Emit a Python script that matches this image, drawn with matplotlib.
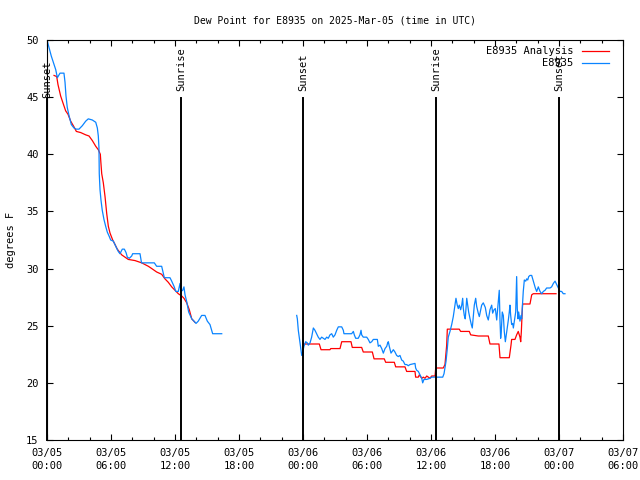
import matplotlib
matplotlib.use('Agg')
import matplotlib.pyplot as plt
from matplotlib.ticker import MultipleLocator

# hours since 03/05 00:00 UTC
obs_t1 = [0.0, 0.40, 0.82, 0.97, 1.22, 1.43, 1.59, 1.69, 1.78, 1.90, 2.06, 2.28, 2.53, 2.75, 3.0,
          3.31, 3.63, 3.87, 4.25, 4.57, 4.72, 4.81, 4.87, 4.90, 4.97, 5.06, 5.18, 5.34, 5.50, 5.65,
          5.84, 5.97, 6.22, 6.47, 6.68, 6.84, 7.06, 7.25, 7.41, 7.53, 7.72, 7.94, 8.03, 8.72, 8.86,
          10.06, 10.28, 10.75, 10.90, 11.0, 11.53, 11.69, 11.93, 12.07, 12.31, 12.47, 12.56, 12.72,
          12.84, 12.94, 13.10, 13.28, 13.57, 13.78, 13.97, 14.18, 14.50, 14.81, 15.03, 15.28, 15.53,
          16.38]
obs_v1 = [50.0, 48.6, 47.4, 46.7, 47.1, 47.1, 47.1, 46.3, 45.1, 44.1, 43.4, 42.6, 42.3, 42.2, 42.2,
          42.5, 42.9, 43.1, 43.0, 42.8, 42.3, 41.6, 40.6, 38.3, 36.9, 36.0, 35.1, 34.3, 33.7, 33.2,
          32.8, 32.5, 32.4, 31.9, 31.5, 31.3, 31.7, 31.7, 31.4, 31.0, 30.9, 31.1, 31.3, 31.3, 30.5,
          30.5, 30.2, 30.2, 29.6, 29.2, 29.2, 28.9, 28.4, 28.0, 28.0, 28.7, 28.0, 28.1,
          28.4, 27.7, 27.1, 26.2, 25.6, 25.4, 25.2, 25.4, 25.9, 25.9, 25.4, 25.1, 24.3,
          24.3]

obs_t2 = [23.41, 23.47, 23.56, 23.72, 23.88, 23.97, 24.09, 24.25, 24.40, 24.50, 24.66, 24.81, 24.97,
          25.12, 25.28, 25.43, 25.59, 25.75, 25.90, 26.06, 26.22, 26.37, 26.53, 26.69, 26.84, 27.0,
          27.16, 27.31, 27.63, 27.78, 27.84, 28.56, 28.72, 28.81, 28.94, 29.18, 29.34, 29.44, 29.50,
          29.65, 29.97, 30.12, 30.28, 30.44, 30.59, 30.97, 31.06, 31.22, 31.38, 31.53, 31.69, 31.85,
          31.94, 32.0, 32.09, 32.25, 32.47, 32.62, 32.78, 32.93, 33.09, 33.25, 33.40, 33.56, 33.72,
          33.87, 34.03, 34.50, 34.56, 34.66, 34.81, 34.97, 35.13, 35.22, 35.34, 35.60, 35.91, 36.06,
          37.10, 37.22, 37.31, 37.41, 37.53, 37.62, 37.78, 37.94, 38.09, 38.25, 38.34, 38.46, 38.56,
          38.65, 38.78, 38.88, 38.97, 39.03, 39.12, 39.21, 39.35, 39.44, 39.53, 39.66, 39.78, 39.87,
          39.97, 40.06, 40.19, 40.28, 40.43, 40.53, 40.66, 40.75, 40.90, 41.0, 41.09, 41.22, 41.37,
          41.53, 41.69, 41.78, 41.91, 42.03, 42.16, 42.31, 42.40, 42.47, 42.53, 42.59, 42.68, 42.78,
          42.87, 42.97, 43.06, 43.15, 43.25, 43.34, 43.40, 43.47, 43.56, 43.66, 43.72, 43.85, 43.94,
          44.03, 44.09, 44.16, 44.22, 44.34, 44.44, 44.50, 44.56, 44.65, 44.75, 44.88, 44.97, 45.07,
          45.16, 45.28, 45.44, 45.53, 45.66, 45.78, 45.91, 46.06, 46.22, 46.38, 46.53, 46.69, 46.84,
          47.0, 47.16, 47.31, 47.47, 47.63, 47.78, 47.94, 48.09, 48.25, 48.40, 48.56]
obs_v2 = [25.9, 25.6, 24.6, 23.5, 22.4, 22.7, 23.2, 23.6, 23.5, 23.3, 23.5, 24.0, 24.8,
          24.6, 24.3, 24.0, 23.8, 24.0, 23.9, 23.8, 24.0, 23.9, 24.2, 24.3, 24.0, 24.2,
          24.6, 24.9, 24.9, 24.6, 24.3, 24.3, 24.5, 24.2, 23.9, 23.9, 24.2, 24.6, 24.2,
          24.0, 24.0, 23.8, 23.5, 23.6, 23.8, 23.8, 23.2, 23.3, 23.0, 22.6, 23.0, 23.2,
          23.5, 23.6, 23.2, 22.6, 22.9, 22.7, 22.4, 22.3, 22.4, 22.0, 21.9, 21.6, 21.6,
          21.5, 21.6, 21.7, 21.3, 21.1, 21.0, 20.7, 20.4, 20.0, 20.3, 20.3, 20.4, 20.5,
          20.5, 20.8, 21.3, 21.9, 23.0, 24.0, 24.5, 25.1, 25.8, 26.8, 27.4, 26.8, 26.5,
          26.8, 26.4, 26.8, 27.4, 26.5, 25.9, 25.6, 27.4, 26.8, 26.2, 25.6, 25.1, 24.8,
          25.9, 26.8, 27.4, 26.7, 26.1, 25.8, 26.4, 26.8, 27.0, 26.8, 26.6, 25.9, 25.5,
          26.4, 26.8, 26.1, 26.4, 26.5, 25.5, 27.1, 28.1, 25.4, 23.9, 24.5, 26.2, 25.9,
          24.5, 23.6, 24.2, 24.8, 25.5, 26.2, 26.8, 25.9, 25.1, 25.2, 24.8, 25.6, 26.2,
          29.3, 26.5, 25.6, 26.2, 25.4, 25.9, 25.6, 26.5, 28.0, 29.0, 28.9, 29.1, 29.0,
          29.3, 29.4, 29.4, 29.1, 28.7, 28.3, 28.0, 28.4, 28.0, 27.8, 28.0, 28.1, 28.3,
          28.3, 28.3, 28.4, 28.7, 28.9, 28.6, 28.3, 28.0, 28.0, 27.8, 27.8]

ana_t1 = [0.66, 0.91, 1.03, 1.28, 1.53, 1.75, 1.97, 2.22, 2.53, 2.75, 3.16, 3.63, 3.94, 4.25, 4.57,
          4.81, 5.0, 5.05, 5.13, 5.28, 5.44, 5.60, 5.75, 5.91, 6.16, 6.38, 6.59, 7.0, 7.62, 8.25,
          8.88, 9.50, 9.82, 10.28, 10.75, 11.06, 11.37, 11.69, 12.0, 12.31, 12.63, 12.84, 13.10,
          13.34, 13.57, 13.87]
ana_v1 = [46.9, 46.8, 46.1, 45.1, 44.4, 43.8, 43.5, 42.9, 42.4, 42.0, 41.9, 41.7, 41.6, 41.2, 40.7,
          40.4, 40.0, 39.3, 38.3, 37.5, 36.3, 34.8, 33.7, 33.1, 32.5, 32.1, 31.7, 31.2, 30.8, 30.7,
          30.5, 30.2, 30.0, 29.7, 29.5, 29.1, 28.8, 28.4, 28.1, 27.8, 27.6, 27.4, 27.0,
          26.4, 25.6, 25.3]

ana_t2 = [24.03, 25.53, 25.69, 26.53, 26.60, 27.47, 27.63, 28.50, 28.62, 29.50, 29.65, 30.50, 30.66,
          31.62, 31.75, 32.56, 32.69, 33.56, 33.72, 34.50, 34.56, 34.81, 34.90, 35.13, 35.28, 35.44,
          35.60, 35.75, 35.91, 36.06, 36.38, 36.44, 37.15, 37.31, 37.47, 37.53, 38.65, 38.78, 39.59,
          39.72, 40.43, 41.37, 41.53, 42.37, 42.47, 43.34, 43.50, 43.56, 43.87, 44.03, 44.18, 44.34,
          44.41, 44.47, 44.53, 44.59, 45.28, 45.44, 45.59, 47.72]
ana_v2 = [23.4, 23.4, 22.9, 22.9, 23.0, 23.0, 23.6, 23.6, 23.1, 23.1, 22.7, 22.7, 22.1,
          22.1, 21.8, 21.8, 21.4, 21.4, 21.0, 21.0, 20.5, 20.5, 20.7, 20.4, 20.5, 20.4,
          20.6, 20.5, 20.4, 20.6, 20.6, 21.3, 21.3, 21.6, 23.3, 24.7, 24.7, 24.5, 24.5,
          24.2, 24.1, 24.1, 23.4, 23.4, 22.2, 22.2, 23.3, 23.8, 23.8, 24.2, 24.5, 24.0,
          23.6, 24.5, 25.8, 26.9, 26.9, 27.7, 27.8, 27.8]

sun_times = [0.0, 12.56, 24.02, 36.47, 48.03]
sun_names = ['Sunset', 'Sunrise', 'Sunset', 'Sunrise', 'Sunset']

tick_hours = [0, 6, 12, 18, 24, 30, 36, 42, 48, 54]
tick_labels = ['03/05\n00:00', '03/05\n06:00', '03/05\n12:00', '03/05\n18:00', '03/06\n00:00',
               '03/06\n06:00', '03/06\n12:00', '03/06\n18:00', '03/07\n00:00', '03/07\n06:00']

plt.rcParams['font.family'] = 'DejaVu Sans Mono'
plt.rcParams['font.size'] = 7.5

fig = plt.figure(figsize=(6.4, 4.8), dpi=100)
ax = fig.add_axes([47 / 640, 40 / 480, 576 / 640, 400 / 480])

red = '#ff0000'
blue = '#0a84ff'
ax.plot(ana_t1, ana_v1, color=red, lw=0.9, label='E8935 Analysis')
ax.plot(ana_t2, ana_v2, color=red, lw=0.9)
ax.plot(obs_t1, obs_v1, color=blue, lw=0.9, label='E8935')
ax.plot(obs_t2, obs_v2, color=blue, lw=0.9)

for i, (t, name) in enumerate(zip(sun_times, sun_names)):
    ax.plot([t, t], [15, 44.9], color='black', lw=1.4, clip_on=False)
    base = 44.9 if i == 0 else 45.5
    ax.text(t, base, name, rotation=90, ha='center', va='bottom', fontsize=7.5)

ax.set_xlim(0, 54)
ax.set_ylim(15, 50)
ax.set_xticks(tick_hours)
ax.set_xticklabels(tick_labels, linespacing=1.35)
ax.xaxis.set_minor_locator(MultipleLocator(2))
ax.yaxis.set_major_locator(MultipleLocator(5))
ax.tick_params(which='both', direction='in', top=True, right=True, width=0.8)
ax.tick_params(which='major', length=4, pad=6)
ax.tick_params(which='minor', length=2)
for s in ax.spines.values():
    s.set_linewidth(0.8)

ax.set_ylabel('degrees F', labelpad=7)
ax.set_title('Dew Point for E8935 on 2025-Mar-05 (time in UTC)', fontsize=7, pad=12)

leg = ax.legend(loc='upper right', bbox_to_anchor=(1 - 8 / 576, 1.0), frameon=False,
                markerfirst=False, handlelength=2.6, borderaxespad=0.2, labelspacing=0.2,
                handletextpad=0.8)

plt.savefig('out.png', dpi=100)
